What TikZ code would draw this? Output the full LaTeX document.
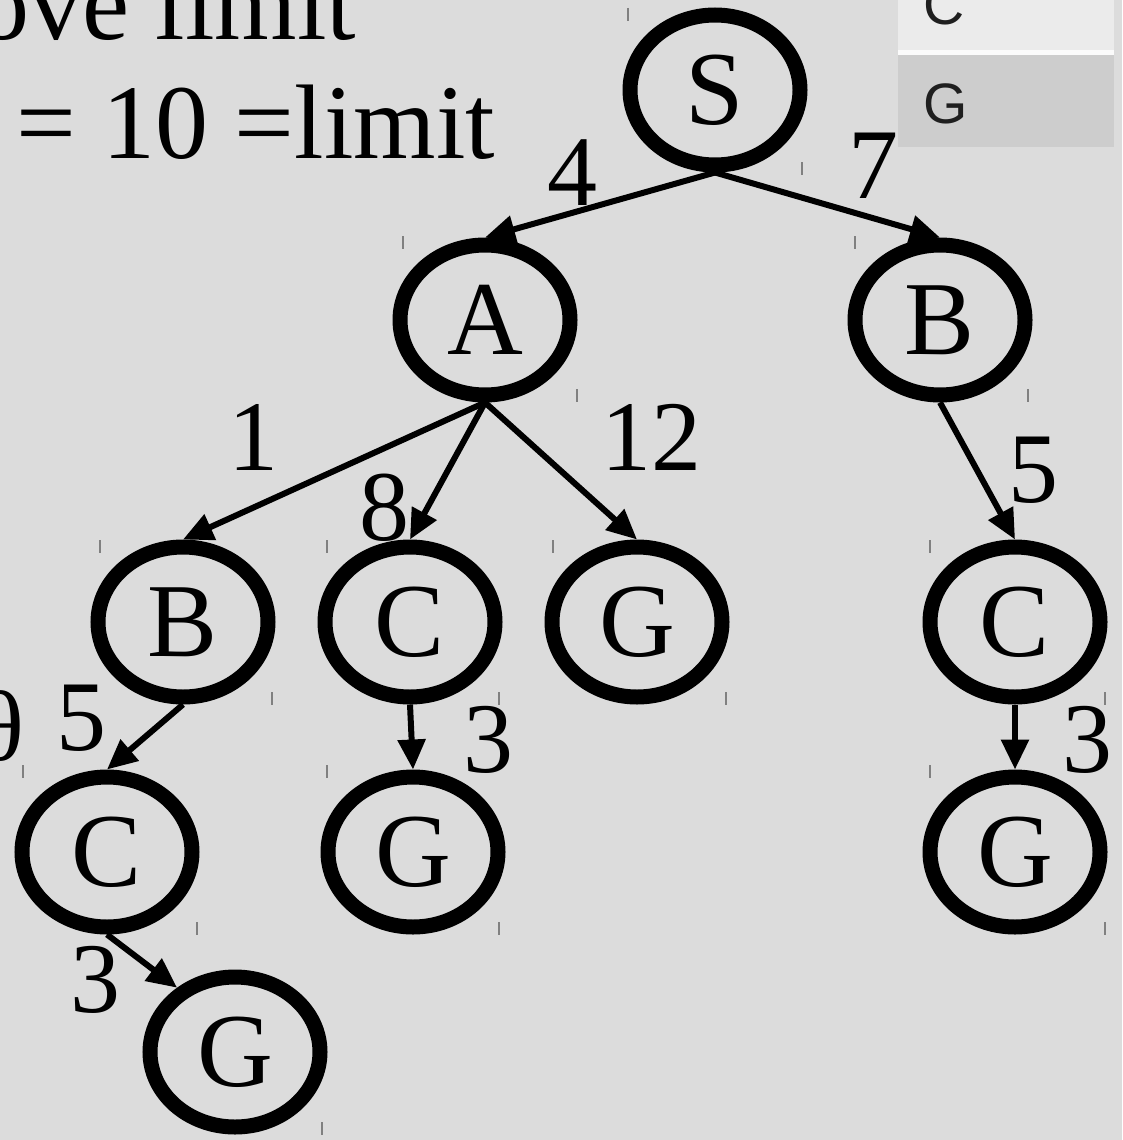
\documentclass[tikz,border=0pt]{standalone}
\usepackage{fontspec}
\setmainfont{Liberation Serif}
\newfontfamily\uisans{Liberation Sans}
\usetikzlibrary{shapes.geometric,arrows.meta}
\definecolor{bg}{HTML}{DCDCDC}
\definecolor{listlight}{HTML}{EBEBEB}
\definecolor{listdark}{HTML}{CDCDCD}
\definecolor{tickc}{HTML}{808080}
\tikzset{
  st/.style={ellipse, draw=black, line width=15pt, inner sep=0pt,
    minimum width=170pt, minimum height=150pt,
    font=\fontsize{105}{110}\selectfont},
  edge/.style={line width=6pt, -{Triangle[length=30pt,width=27pt]}},
  wlab/.style={font=\fontsize{100}{110}\selectfont, anchor=base, inner sep=0pt},
  tick/.style={draw=tickc, line width=1.6pt},
  uilab/.style={font=\uisans\fontsize{57}{60}\selectfont, text=black!88, anchor=base west, inner sep=0pt},
}
\begin{document}
\begin{tikzpicture}[x=1pt,y=-1pt]
\fill[bg] (0,0) rectangle (1122,1140);
\useasboundingbox (0,0) rectangle (1122,1140);
\begin{scope}
\clip (0,0) rectangle (1122,1140);
% list box
\fill[listlight] (898,-5) rectangle (1114,50);
\fill[white!80!listlight] (898,50) rectangle (1114,55);
\fill[listdark] (898,55) rectangle (1114,147);
\node[uilab] (lc) at (923,25) {C};
\node[uilab] (lg) at (923,123) {G};
% title text
\node[font=\fontsize{106}{110}\selectfont, anchor=base west, inner sep=0pt] (t1) at (-24,40) {ove limit};
\node[font=\fontsize{106}{110}\selectfont, anchor=base west, inner sep=0pt] (t2) at (16,158) {= 10 =limit};
\node[font=\fontsize{100}{110}\selectfont, anchor=base east, inner sep=0pt] (th) at (25,760) {θ};
% nodes
\node[st] (S) at (715,90) {S};
\node[st] (A) at (485,320) {A};
\node[st] (B) at (940,320) {B};
\node[st] (B2) at (183,622) {B};
\node[st] (C2) at (410,622) {C};
\node[st] (G2) at (637,622) {G};
\node[st] (Cr) at (1015,622) {C};
\node[st] (C3) at (107,852) {C};
\node[st] (G3) at (413,852) {G};
\node[st] (Gr) at (1015,852) {G};
\node[st] (Gb) at (235,1052) {G};
% edges
\draw[edge] (S.south) -- (A.north);
\draw[edge] (S.south) -- (B.north);
\draw[edge] (A.south) -- (B2.north);
\draw[edge] (A.south) -- (C2.north);
\draw[edge] (A.south) -- (G2.north);
\draw[edge] (B.south) -- (Cr.north);
\draw[edge] (B2.south) -- (C3.north);
\draw[edge] (C2.south) -- (G3.north);
\draw[edge] (Cr.south) -- (Gr.north);
\draw[edge] (C3.south) -- (Gb.132);
% weights
\node[wlab] (w4) at (572,205) {4};
\node[wlab] (w7) at (873,198) {7};
\node[wlab] (w1) at (253,470) {1};
\node[wlab] (w8) at (384,540) {8};
\node[wlab] (w12) at (651,470) {12};
\node[wlab] (w5r) at (1033,502) {5};
\node[wlab] (w5l) at (81,750) {5};
\node[wlab] (w3m) at (488,772) {3};
\node[wlab] (w3r) at (1087,772) {3};
\node[wlab] (w3b) at (95,1012) {3};
% selection ticks
\foreach \x/\y in {628/8, 403/236, 855/236, 100/540, 327/540, 553/540, 930/540, 23/765, 327/765, 930/765}
  \draw[tick] (\x,\y) -- (\x,\y+13);
\foreach \x/\y in {802/175, 577/402, 1028/402, 272/705, 499/705, 726/705, 1105/705, 197/935, 499/935, 1105/935, 322/1135}
  \draw[tick] (\x,\y-13) -- (\x,\y);
\end{scope}
\end{tikzpicture}
\end{document}
